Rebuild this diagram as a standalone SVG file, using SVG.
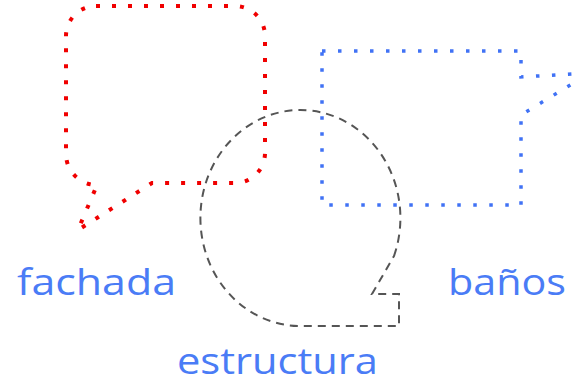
<svg xmlns="http://www.w3.org/2000/svg" width="579" height="383" viewBox="0 0 579 383">
<style>
.red{fill:none;stroke:#f00000;stroke-width:4;stroke-dasharray:4 12}
.blue{fill:none;stroke:#4072f5;stroke-width:3.5;stroke-dasharray:3.5 12.5}
.grey{fill:none;stroke:#555;stroke-width:2;stroke-dasharray:8 6}
.lbl{font-family:"Open Sans","Liberation Sans",sans-serif;font-size:36px;fill:#4a7cf6}
</style>
<rect width="579" height="383" fill="#fff"/>
<g id="fachada">
<path class="red" d="M96 6 L235 6 A30 30 0 0 1 265 36 L265 153 A30 30 0 0 1 235 183 L152 183 L78 230 L97 185 A31 31 0 0 1 66 154 L66 36 A30 30 0 0 1 96 6 Z"/>
<text class="lbl" x="17" y="295" textLength="159" lengthAdjust="spacingAndGlyphs">fachada</text>
</g>
<g id="banos">
<path class="blue" d="M322 51 L521 51 L521 77 L572 74 L572 84 L521 115 L521 205 L322 205 Z"/>
<text class="lbl" x="448" y="295" textLength="118" lengthAdjust="spacingAndGlyphs">baños</text>
</g>
<g id="estructura">
<path class="grey" d="M394 256 A100 108 0 1 0 300 326 L399 326 L399 294 L372 294 Z"/>
<text class="lbl" x="177" y="374" textLength="201" lengthAdjust="spacingAndGlyphs">estructura</text>
</g>
<g id="connectors"/>
</svg>
